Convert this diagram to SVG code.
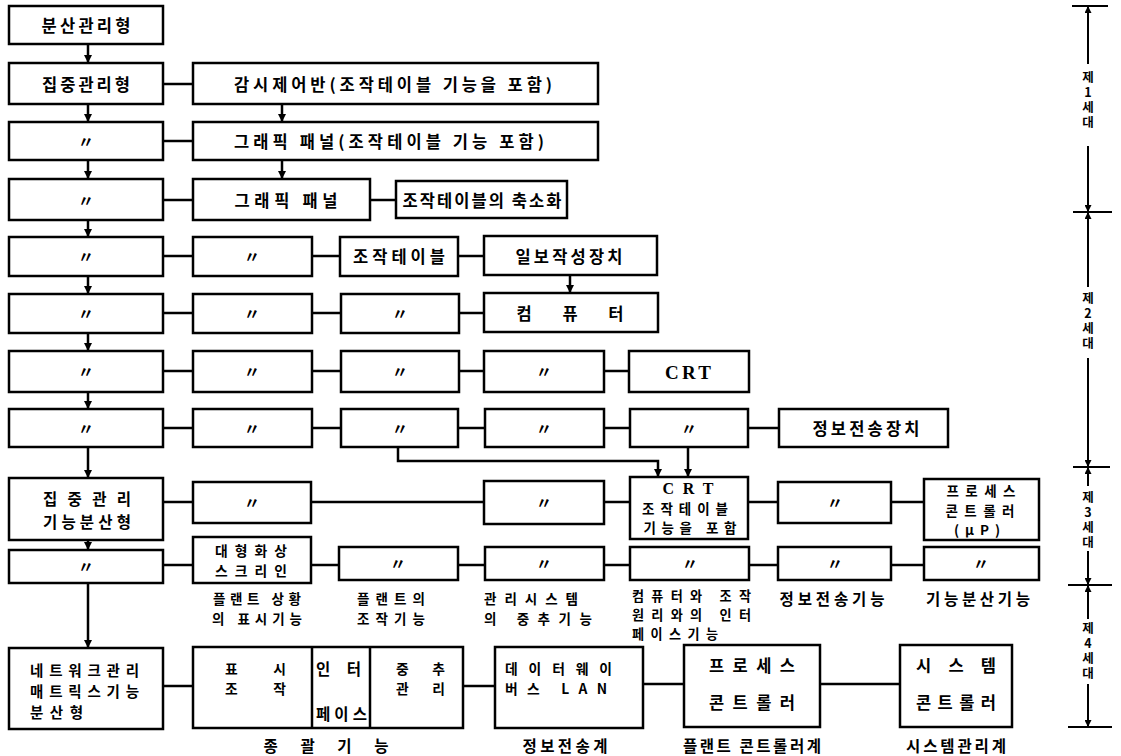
<svg xmlns="http://www.w3.org/2000/svg" width="1121" height="756" viewBox="0 0 1121 756">
<style>
.b{fill:#fff;stroke:#000;stroke-width:2.5}
.c{fill:none;stroke:#000;stroke-width:2.5}
.ax{fill:none;stroke:#000;stroke-width:2}
text{font-family:"Noto Sans CJK KR","Noto Sans",sans-serif;font-weight:700;font-size:16.5px;fill:#000;dominant-baseline:central}
.m{text-anchor:middle}
.s{text-anchor:start}
.d{font-size:16px}
.r{font-family:"Liberation Serif",serif;font-size:19px}
.r2{font-family:"Liberation Serif",serif;font-size:16px}
.lb{font-size:15.5px}
.f155{font-size:15.5px}
.f145{font-size:14.5px}
.f138{font-size:13.8px}
.f135{font-size:13.5px}
.f131{font-size:13.1px}
.vt{writing-mode:vertical-rl;text-orientation:upright;font-size:12.5px;letter-spacing:2.5px;dominant-baseline:auto;text-anchor:start}
</style>
<defs>
<marker id="ah" viewBox="0 0 10 10" refX="10" refY="5" markerWidth="8" markerHeight="8" markerUnits="userSpaceOnUse" orient="auto-start-reverse">
<path d="M0,0 L10,5 L0,10 Z" fill="#000"/>
</marker>
<marker id="as" viewBox="0 0 10 10" refX="10" refY="5" markerWidth="7" markerHeight="7" markerUnits="userSpaceOnUse" orient="auto-start-reverse">
<path d="M0,0 L10,5 L0,10 Z" fill="#000"/>
</marker>
</defs>

<g id="connectors">
<path class="c" marker-end="url(#ah)" d="M88,44 V63"/>
<path class="c" marker-end="url(#ah)" d="M88,104 V122"/>
<path class="c" marker-end="url(#ah)" d="M88,160 V179"/>
<path class="c" marker-end="url(#ah)" d="M88,220 V237"/>
<path class="c" marker-end="url(#ah)" d="M88,276 V294"/>
<path class="c" marker-end="url(#ah)" d="M88,333 V351"/>
<path class="c" marker-end="url(#ah)" d="M88,392 V409"/>
<path class="c" marker-end="url(#ah)" d="M88,447 V478"/>
<path class="c" marker-end="url(#ah)" d="M88,540 V550"/>
<path class="c" marker-end="url(#ah)" d="M88,583 V648"/>
<path class="c" marker-end="url(#ah)" d="M282,104 V122"/>
<path class="c" marker-end="url(#ah)" d="M282,160 V179"/>
<path class="c" marker-end="url(#ah)" d="M570,275 V293"/>
<path class="c" marker-end="url(#ah)" d="M398,447 V461 H658 V477"/>
<path class="c" marker-end="url(#ah)" d="M688,447 V477"/>
<path class="c" d="M163,84 H193"/>
<path class="c" d="M163,141 H193"/>
<path class="c" d="M163,200 H193 M370,200 H396"/>
<path class="c" d="M163,256 H193 M312,256 H340 M458,256 H484"/>
<path class="c" d="M163,313 H193 M312,313 H341 M459,313 H484"/>
<path class="c" d="M163,371 H193 M312,371 H341 M459,371 H484 M604,371 H629"/>
<path class="c" d="M163,428 H193 M312,428 H341 M458,428 H485 M604,428 H630 M748,428 H779"/>
<path class="c" d="M163,502 H193 M311,502 H484 M604,502 H630 M748,502 H778 M891,502 H924"/>
<path class="c" d="M163,565 H193 M311,565 H339 M458,565 H485 M604,565 H630 M749,565 H778 M891,565 H924"/>
<path class="c" d="M163,686 H193 M463,686 H495 M643,684 H684 M820,684 H900"/>
</g>

<g id="r1"><rect class="b" x="9" y="6" width="154" height="38"/><text class="m" x="86" y="25" textLength="89" lengthAdjust="spacing">분산관리형</text></g>
<g id="r2a"><rect class="b" x="9" y="63" width="154" height="41"/><text class="m" x="86" y="84" textLength="88" lengthAdjust="spacing">집중관리형</text></g>
<g id="r2b"><rect class="b" x="193" y="63" width="405" height="41"/><text class="m" x="393" y="84" textLength="318" lengthAdjust="spacing">감시제어반(조작테이블 기능을 포함)</text></g>
<g id="r3a"><rect class="b" x="9" y="122" width="154" height="38"/><text class="m d" x="86" y="141">〃</text></g>
<g id="r3b"><rect class="b" x="193" y="122" width="405" height="38"/><text class="m" x="389" y="141" textLength="310" lengthAdjust="spacing">그래픽 패널(조작테이블 기능 포함)</text></g>
<g id="r4a"><rect class="b" x="9" y="179" width="154" height="41"/><text class="m d" x="86" y="200">〃</text></g>
<g id="r4b"><rect class="b" x="193" y="179" width="177" height="41"/><text class="m" x="286" y="200" textLength="103" lengthAdjust="spacing">그래픽 패널</text></g>
<g id="r4c"><rect class="b" x="396" y="181" width="171" height="37"/><text class="m" x="482" y="200" textLength="159" lengthAdjust="spacing">조작테이블의 축소화</text></g>

<g id="r5a"><rect class="b" x="9" y="237" width="154" height="39"/><text class="m d" x="86" y="256">〃</text></g>
<g id="r5b"><rect class="b" x="193" y="237" width="119" height="39"/><text class="m d" x="252" y="256">〃</text></g>
<g id="r5c"><rect class="b" x="340" y="237" width="118" height="39"/><text class="m" x="399" y="256" textLength="92" lengthAdjust="spacing">조작테이블</text></g>
<g id="r5d"><rect class="b" x="484" y="236" width="173" height="39"/><text class="m" x="569" y="256" textLength="107" lengthAdjust="spacing">일보작성장치</text></g>

<g id="r6a"><rect class="b" x="9" y="294" width="154" height="39"/><text class="m d" x="86" y="313">〃</text></g>
<g id="r6b"><rect class="b" x="193" y="294" width="119" height="39"/><text class="m d" x="252" y="313">〃</text></g>
<g id="r6c"><rect class="b" x="341" y="294" width="118" height="39"/><text class="m d" x="400" y="313">〃</text></g>
<g id="r6d"><rect class="b" x="484" y="293" width="174" height="39"/><text class="m" x="570" y="313" textLength="107" lengthAdjust="spacing">컴   퓨   터</text></g>

<g id="r7a"><rect class="b" x="9" y="351" width="154" height="41"/><text class="m d" x="86" y="371">〃</text></g>
<g id="r7b"><rect class="b" x="193" y="351" width="119" height="41"/><text class="m d" x="252" y="371">〃</text></g>
<g id="r7c"><rect class="b" x="341" y="351" width="118" height="41"/><text class="m d" x="400" y="371">〃</text></g>
<g id="r7d"><rect class="b" x="484" y="351" width="120" height="41"/><text class="m d" x="544" y="371">〃</text></g>
<g id="r7e"><rect class="b" x="629" y="351" width="120" height="41"/><text class="m r" x="688" y="372" textLength="46" lengthAdjust="spacing">CRT</text></g>

<g id="r8a"><rect class="b" x="9" y="409" width="154" height="38"/><text class="m d" x="86" y="428">〃</text></g>
<g id="r8b"><rect class="b" x="193" y="409" width="119" height="38"/><text class="m d" x="252" y="428">〃</text></g>
<g id="r8c"><rect class="b" x="341" y="409" width="117" height="38"/><text class="m d" x="400" y="428">〃</text></g>
<g id="r8d"><rect class="b" x="485" y="409" width="119" height="38"/><text class="m d" x="544" y="428">〃</text></g>
<g id="r8e"><rect class="b" x="630" y="409" width="118" height="38"/><text class="m d" x="689" y="428">〃</text></g>
<g id="r8f"><rect class="b" x="779" y="409" width="169" height="38"/><text class="m" x="866" y="428" textLength="107" lengthAdjust="spacing">정보전송장치</text></g>

<g id="r9a"><rect class="b" x="9" y="478" width="154" height="62"/><text class="m f155"><tspan x="87" y="498" textLength="88" lengthAdjust="spacing">집 중 관 리</tspan><tspan x="87" y="521" textLength="88" lengthAdjust="spacing">기능분산형</tspan></text></g>
<g id="r9b"><rect class="b" x="193" y="482" width="118" height="41"/><text class="m d" x="252" y="502">〃</text></g>
<g id="r9d"><rect class="b" x="484" y="481" width="120" height="43"/><text class="m d" x="544" y="502">〃</text></g>
<g id="r9e"><rect class="b" x="630" y="477" width="118" height="62"/><text class="m f135"><tspan class="r2" x="688" y="488" textLength="51" lengthAdjust="spacing">C R T</tspan><tspan x="685" y="507.5" textLength="86" lengthAdjust="spacing">조작테이블</tspan><tspan x="690" y="527" textLength="93" lengthAdjust="spacing">기능을 포함</tspan></text></g>
<g id="r9f"><rect class="b" x="778" y="482" width="113" height="41"/><text class="m d" x="835" y="502">〃</text></g>
<g id="r9g"><rect class="b" x="924" y="479" width="115" height="61"/><text class="m f135"><tspan x="981" y="490" textLength="69" lengthAdjust="spacing">프로세스</tspan><tspan x="980" y="509.5" textLength="69" lengthAdjust="spacing">콘트롤러</tspan><tspan x="977" y="529" textLength="46" lengthAdjust="spacing">(μP)</tspan></text></g>

<g id="r10a"><rect class="b" x="9" y="550" width="154" height="33"/><text class="m d" x="86" y="566">〃</text></g>
<g id="r10b"><rect class="b" x="193" y="537" width="118" height="46"/><text class="m f138"><tspan x="251" y="550" textLength="72" lengthAdjust="spacing">대형화상</tspan><tspan x="251" y="570" textLength="72" lengthAdjust="spacing">스크리인</tspan></text></g>
<g id="r10c"><rect class="b" x="339" y="547" width="119" height="33"/><text class="m d" x="398" y="563">〃</text></g>
<g id="r10d"><rect class="b" x="485" y="547" width="119" height="33"/><text class="m d" x="544" y="563">〃</text></g>
<g id="r10e"><rect class="b" x="630" y="547" width="119" height="33"/><text class="m d" x="690" y="563">〃</text></g>
<g id="r10f"><rect class="b" x="778" y="547" width="113" height="33"/><text class="m d" x="835" y="563">〃</text></g>
<g id="r10g"><rect class="b" x="924" y="547" width="115" height="33"/><text class="m d" x="981" y="563">〃</text></g>

<g id="labels3">
<text class="m f135"><tspan x="257" y="598" textLength="88" lengthAdjust="spacing">플랜트 상황</tspan><tspan x="257" y="618" textLength="90" lengthAdjust="spacing">의 표시기능</tspan></text>
<text class="m f135"><tspan x="391" y="598" textLength="68" lengthAdjust="spacing">플랜트의</tspan><tspan x="391" y="618" textLength="68" lengthAdjust="spacing">조작기능</tspan></text>
<text class="s f135"><tspan x="484" y="598" textLength="94" lengthAdjust="spacing">관리시스템</tspan><tspan x="484" y="618" textLength="108" lengthAdjust="spacing">의 중추기능</tspan></text>
<text class="s f131"><tspan x="632" y="595" textLength="119" lengthAdjust="spacing">컴퓨터와 조작</tspan><tspan x="632" y="614" textLength="119" lengthAdjust="spacing">원리와의 인터</tspan><tspan x="632" y="633" textLength="86" lengthAdjust="spacing">페이스기능</tspan></text>
<text class="m lb" x="832" y="598" textLength="105" lengthAdjust="spacing">정보전송기능</text>
<text class="m lb" x="978" y="598" textLength="104" lengthAdjust="spacing">기능분산기능</text>
</g>

<g id="r11a"><rect class="b" x="9" y="648" width="154" height="81"/><text class="s f145"><tspan x="30" y="669" textLength="109" lengthAdjust="spacing">네트워크관리</tspan><tspan x="30" y="690" textLength="109" lengthAdjust="spacing">매트릭스기능</tspan><tspan x="30" y="711" textLength="53" lengthAdjust="spacing">분산형</tspan></text></g>
<g id="r11b"><rect class="b" x="193" y="647" width="270" height="81"/><path class="c" d="M312,647 V728 M370,647 V728"/>
<text class="s f138"><tspan x="225" y="668" textLength="61" lengthAdjust="spacing">표      시</tspan><tspan x="225" y="688" textLength="61" lengthAdjust="spacing">조      작</tspan></text>
<text class="s f155"><tspan x="316" y="668" textLength="45" lengthAdjust="spacing">인   터</tspan><tspan x="316" y="713" textLength="51" lengthAdjust="spacing">페이스</tspan></text>
<text class="s f138"><tspan x="396" y="668" textLength="49" lengthAdjust="spacing">중   추</tspan><tspan x="396" y="688" textLength="49" lengthAdjust="spacing">관   리</tspan></text>
</g>
<g id="r11c"><rect class="b" x="495" y="647" width="148" height="81"/><text class="s f138"><tspan x="505" y="668" textLength="107" lengthAdjust="spacing">데이터웨이</tspan><tspan x="505" y="688" textLength="102" lengthAdjust="spacing">버스 LAN</tspan></text></g>
<g id="r11d"><rect class="b" x="684" y="645" width="136" height="82"/><text class="m"><tspan x="752" y="665" textLength="86" lengthAdjust="spacing">프 로 세 스</tspan><tspan x="752" y="702" textLength="86" lengthAdjust="spacing">콘 트 롤 러</tspan></text></g>
<g id="r11e"><rect class="b" x="900" y="645" width="112" height="82"/><text class="m"><tspan x="956" y="665" textLength="80" lengthAdjust="spacing">시  스  템</tspan><tspan x="956" y="702" textLength="80" lengthAdjust="spacing">콘 트 롤 러</tspan></text></g>

<g id="labels4">
<text class="m lb" x="326" y="745" textLength="125" lengthAdjust="spacing">종 괄 기 능</text>
<text class="m lb" x="565" y="745" textLength="85" lengthAdjust="spacing">정보전송계</text>
<text class="m lb" x="752" y="745" textLength="138" lengthAdjust="spacing">플랜트 콘트롤러계</text>
<text class="m lb" x="956" y="745" textLength="100" lengthAdjust="spacing">시스템관리계</text>
</g>

<g id="axis">
<path class="ax" d="M1072,6 H1108 M1073,212 H1112 M1073,467 H1110 M1068,585 H1112 M1068,727 H1112"/>
<path class="ax" marker-start="url(#as)" d="M1088,6 V64"/>
<path class="ax" marker-end="url(#as)" d="M1088,146 V212"/>
<path class="ax" marker-start="url(#as)" d="M1088,212 V287"/>
<path class="ax" marker-end="url(#as)" d="M1088,358 V467"/>
<path class="ax" marker-start="url(#as)" d="M1088,467 V486"/>
<path class="ax" marker-end="url(#as)" d="M1088,551 V585"/>
<path class="ax" marker-start="url(#as)" d="M1088,585 V619"/>
<path class="ax" marker-end="url(#as)" d="M1088,684 V727"/>
<text class="vt" x="1088" y="71">제1세대</text>
<text class="vt" x="1088" y="292">제2세대</text>
<text class="vt" x="1088" y="491">제3세대</text>
<text class="vt" x="1088" y="622">제4세대</text>
</g>
</svg>
